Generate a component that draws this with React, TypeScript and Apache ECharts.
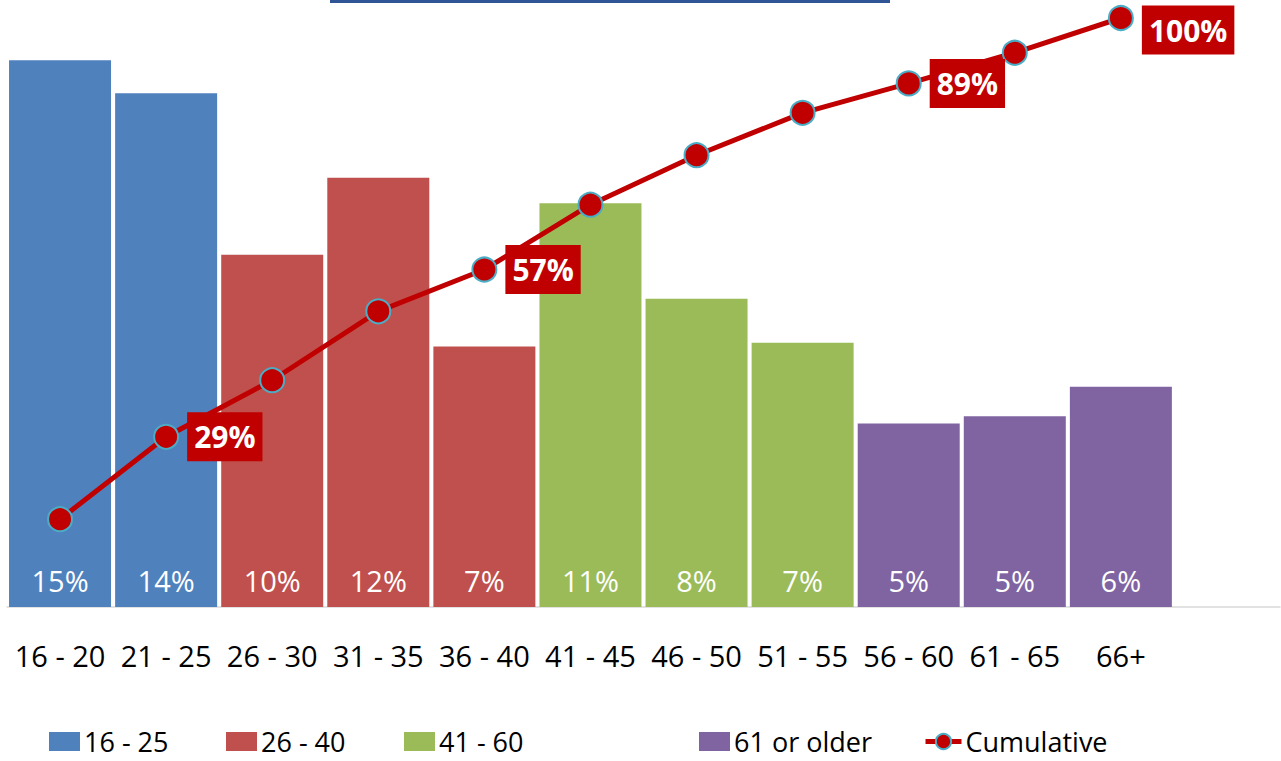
import React, { useEffect, useRef } from "react";
import * as echarts from "echarts";

const categories = ["16 - 20", "21 - 25", "26 - 30", "31 - 35", "36 - 40", "41 - 45", "46 - 50", "51 - 55", "56 - 60", "61 - 65", "66+"];
const shares = [14.9, 14.0, 9.6, 11.7, 7.1, 11.0, 8.4, 7.2, 5.0, 5.2, 6.0];
const cumulative = [14.9, 28.9, 38.5, 50.2, 57.3, 68.3, 76.7, 83.9, 88.9, 94.1, 100];
const groupOf = ["16 - 25", "16 - 25", "26 - 40", "26 - 40", "26 - 40", "41 - 60", "41 - 60", "41 - 60", "61 or older", "61 or older", "61 or older"];
const groups = ["16 - 25", "26 - 40", "41 - 60", "61 or older"];
const groupColors = ["#4F81BD", "#C0504D", "#9BBB59", "#8064A2"];
const labeledCumulative = [1, 4, 8, 10];
const legendNames = [...groups, "Cumulative"];
const legendLefts = [49, 226, 404, 699, 923];

const FONT = "'Open Sans', sans-serif";

export default function App() {
  const ref = useRef<HTMLDivElement>(null);
  useEffect(() => {
    if (!ref.current) return;
    const chart = echarts.init(ref.current, undefined, { renderer: "svg" });
    const axisCats = [...categories, ""];
    const barSeries = groups.map((g, gi) => ({
      name: g,
      type: "bar",
      stack: "bars",
      yAxisIndex: 0,
      barWidth: 102,
      itemStyle: { color: groupColors[gi] },
      label: {
        show: true,
        position: "insideBottom",
        distance: 12,
        color: "#fff",
        fontFamily: FONT,
        fontSize: 29,
        formatter: (p: any) => (p.value == null ? "" : Math.round(p.value) + "%"),
      },
      data: shares.map((v, i) => (groupOf[i] === g ? v : null)),
    }));
    const lineData = cumulative.map((v, i) => {
      const show = labeledCumulative.includes(i);
      return {
        value: v,
        label: show
          ? {
              show: true,
              offset: i === cumulative.length - 1 ? [0, 12] : [0, 0],
            }
          : { show: false },
      };
    });
    const legends = legendNames.map((name, i) => ({
      left: legendLefts[i],
      top: 728,
      padding: 0,
      itemGap: 0,
      itemWidth: name === "Cumulative" ? 36 : 31,
      itemHeight: 19,
      textStyle: { fontFamily: FONT, fontSize: 27, color: "#000", padding: [0, 0, 0, -1] },
      data: [
        name === "Cumulative"
          ? { name, lineStyle: { width: 5, color: "#C00000" } }
          : { name, icon: "rect" },
      ],
    }));
    chart.setOption({
      animation: false,
      textStyle: { fontFamily: FONT },
      graphic: [
        { type: "rect", shape: { x: 330, y: 0, width: 560, height: 3 }, style: { fill: "#2F5597" } },
      ],
      grid: { left: 7, right: 1, top: 18, bottom: 154, containLabel: false },
      legend: legends,
      xAxis: {
        type: "category",
        data: axisCats,
        axisTick: { show: false },
        axisLine: { lineStyle: { color: "#D9D9D9", width: 1.5 } },
        axisLabel: {
          interval: 0,
          margin: 34,
          color: "#000",
          fontFamily: FONT,
          fontSize: 29,
        },
      },
      yAxis: [
        { type: "value", min: 0, max: 16.05, show: false, splitLine: { show: false } },
        { type: "value", min: 0, max: 100, show: false, splitLine: { show: false } },
      ],
      series: [
        ...barSeries,
        {
          name: "Cumulative",
          type: "line",
          yAxisIndex: 1,
          symbol: "circle",
          symbolSize: 24,
          lineStyle: { color: "#C00000", width: 5 },
          itemStyle: { color: "#C00000", borderColor: "#4BACC6", borderWidth: 2 },
          label: {
            position: "right",
            distance: 8,
            color: "#fff",
            fontWeight: "bold",
            fontFamily: FONT,
            fontSize: 30,
            lineHeight: 32,
            backgroundColor: "#C00000",
            padding: [9, 7, 8, 7],
            formatter: (p: any) => Math.round(p.value) + "%",
          },
          z: 5,
          data: lineData,
        },
      ],
    });
    return () => chart.dispose();
  }, []);
  return <div ref={ref} style={{ position: "absolute", left: 0, top: 0, width: 1281, height: 761, background: "#fff" }} />;
}
